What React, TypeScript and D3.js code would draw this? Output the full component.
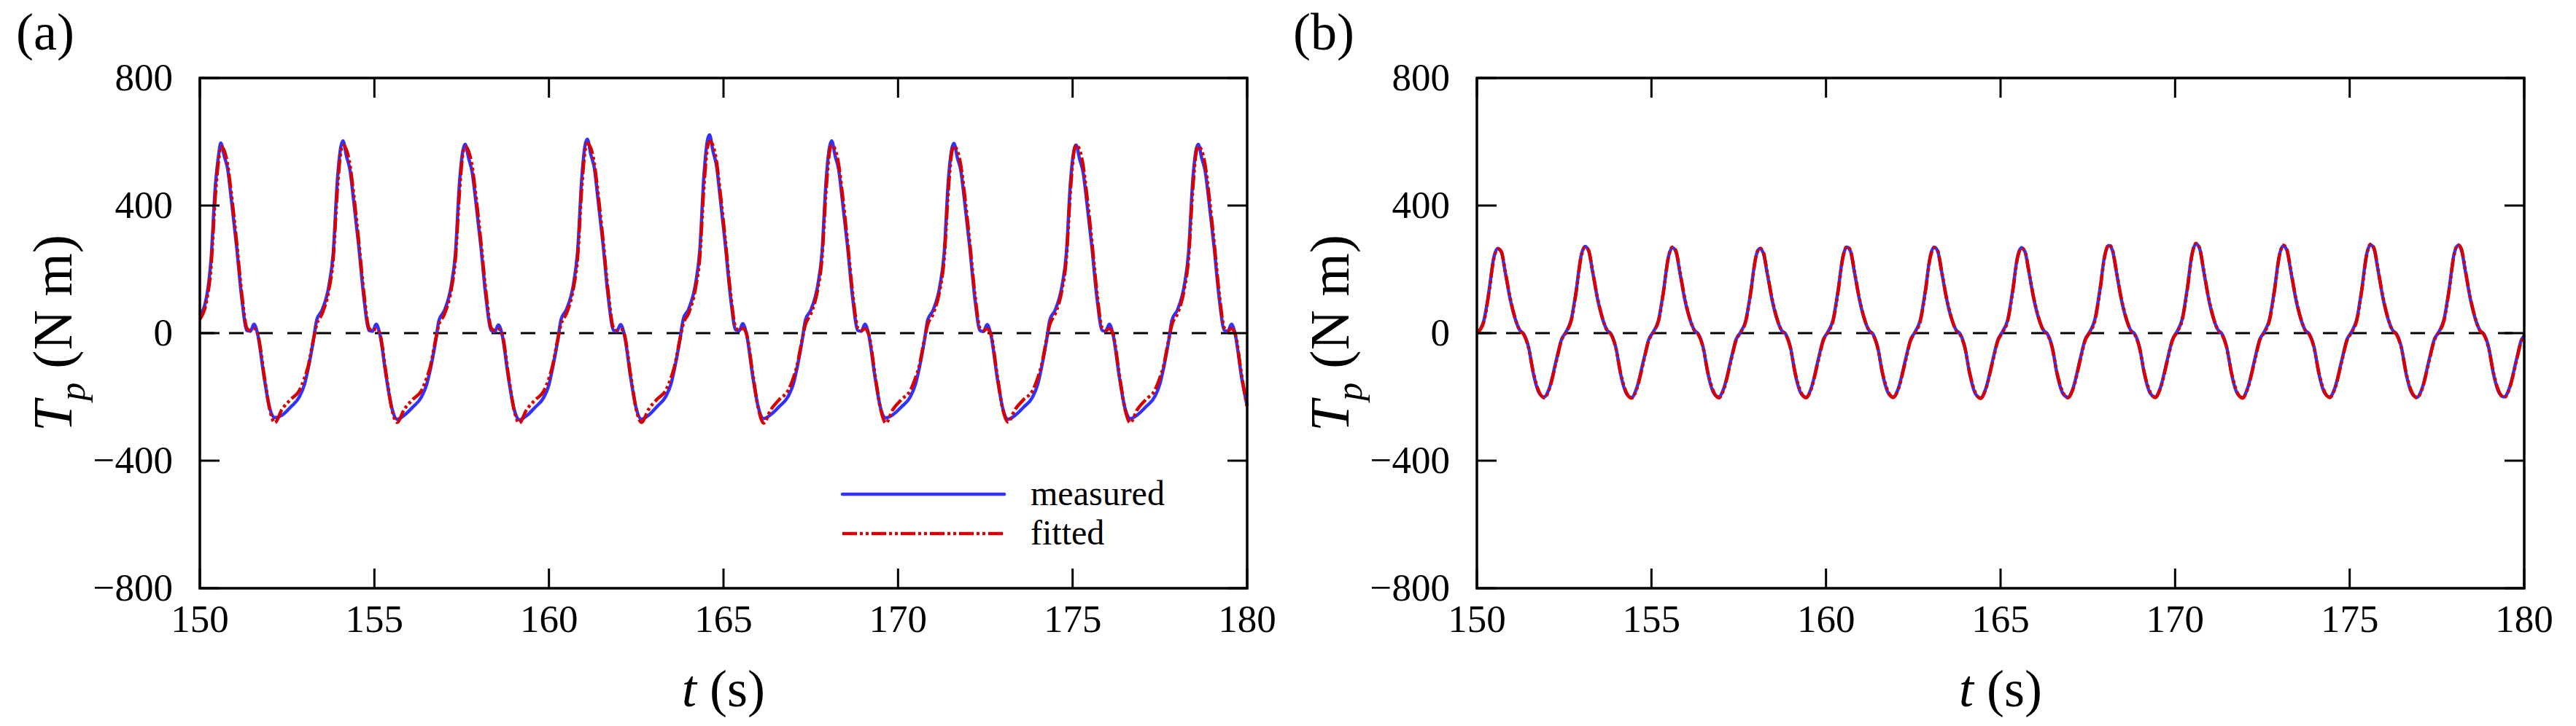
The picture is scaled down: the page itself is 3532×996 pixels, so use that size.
import React from 'react';
import * as d3 from 'd3';

// axis ticks
const xTicks = [150, 155, 160, 165, 170, 175, 180];
const yTicks = [-800, -400, 0, 400, 800];

// (a) time samples, one row per cycle
const tA: number[] = [
	150.0, 150.2, 150.32, 150.44, 150.54, 150.6, 150.7, 150.8, 150.9, 151.05, 151.2, 151.35, 151.45, 151.55, 151.65, 151.85, 152.0, 152.15, 152.35, 152.6, 152.85, 153.0,
	153.1, 153.25, 153.35, 153.5, 153.7, 153.82, 153.94, 154.04, 154.1, 154.2, 154.3, 154.4, 154.55, 154.7, 154.85, 154.95, 155.05, 155.15, 155.35, 155.5, 155.65, 155.85, 156.1, 156.35, 156.5,
	156.6, 156.75, 156.85, 157.0, 157.2, 157.32, 157.44, 157.54, 157.6, 157.7, 157.8, 157.9, 158.05, 158.2, 158.35, 158.45, 158.55, 158.65, 158.85, 159.0, 159.15, 159.35, 159.6, 159.85, 160.0,
	160.1, 160.25, 160.35, 160.5, 160.7, 160.82, 160.94, 161.04, 161.1, 161.2, 161.3, 161.4, 161.55, 161.7, 161.85, 161.95, 162.05, 162.15, 162.35, 162.5, 162.65, 162.85, 163.1, 163.35, 163.5,
	163.6, 163.75, 163.85, 164.0, 164.2, 164.32, 164.44, 164.54, 164.6, 164.7, 164.8, 164.9, 165.05, 165.2, 165.35, 165.45, 165.55, 165.65, 165.85, 166.0, 166.15, 166.35, 166.6, 166.85, 167.0,
	167.1, 167.25, 167.35, 167.5, 167.7, 167.82, 167.94, 168.04, 168.1, 168.2, 168.3, 168.4, 168.55, 168.7, 168.85, 168.95, 169.05, 169.15, 169.35, 169.5, 169.65, 169.85, 170.1, 170.35, 170.5,
	170.6, 170.75, 170.85, 171.0, 171.2, 171.32, 171.44, 171.54, 171.6, 171.7, 171.8, 171.9, 172.05, 172.2, 172.35, 172.45, 172.55, 172.65, 172.85, 173.0, 173.15, 173.35, 173.6, 173.85, 174.0,
	174.1, 174.25, 174.35, 174.5, 174.7, 174.82, 174.94, 175.04, 175.1, 175.2, 175.3, 175.4, 175.55, 175.7, 175.85, 175.95, 176.05, 176.15, 176.35, 176.5, 176.65, 176.85, 177.1, 177.35, 177.5,
	177.6, 177.75, 177.85, 178.0, 178.2, 178.32, 178.44, 178.54, 178.6, 178.7, 178.8, 178.9, 179.05, 179.2, 179.35, 179.45, 179.55, 179.65, 179.85, 180.0,
];

const measuredA: number[] = [
	55, 118, 230, 455, 560, 596, 555, 512, 421, 275, 110, 8, 6, 28, 0, -145, -235, -265, -258, -232, -200, -160,
	-113, -25, 42, 72, 150, 250, 480, 585, 603, 555, 512, 421, 275, 110, 8, 6, 28, 0, -145, -235, -270, -258, -232, -200, -160,
	-115, -28, 40, 70, 148, 248, 475, 575, 592, 548, 505, 418, 272, 108, 8, 5, 26, 0, -148, -238, -272, -260, -233, -202, -162,
	-112, -24, 44, 74, 152, 255, 485, 592, 608, 560, 518, 425, 278, 112, 9, 6, 27, 0, -146, -236, -270, -258, -230, -198, -158,
	-110, -22, 45, 75, 155, 258, 495, 605, 622, 570, 525, 430, 280, 114, 10, 7, 30, 2, -144, -234, -268, -256, -230, -199, -160,
	-113, -25, 42, 72, 150, 250, 480, 585, 603, 555, 512, 421, 275, 110, 8, 6, 28, 0, -145, -235, -266, -256, -231, -200, -160,
	-114, -26, 41, 71, 149, 249, 478, 578, 595, 550, 508, 419, 273, 109, 8, 5, 27, 0, -146, -236, -270, -258, -232, -201, -161,
	-113, -25, 42, 72, 150, 248, 475, 574, 590, 546, 505, 418, 272, 108, 8, 6, 28, 0, -145, -235, -268, -257, -231, -200, -160,
	-113, -25, 42, 72, 150, 250, 476, 576, 592, 548, 506, 419, 273, 109, 8, 6, 28, 0, -145, -228,
];

const fittedA: number[] = [
	43, 105, 205, 425, 545, 585, 572, 525, 440, 290, 125, 15, 8, 14, 0, -138, -238, -281, -240, -208, -180, -140,
	-105, -22, 28, 60, 138, 232, 450, 570, 590, 575, 528, 442, 290, 125, 15, 8, 14, 0, -138, -238, -280, -240, -208, -180, -140,
	-106, -23, 27, 58, 136, 230, 446, 566, 585, 570, 523, 438, 288, 124, 15, 8, 13, 0, -140, -240, -282, -242, -210, -182, -142,
	-104, -21, 29, 61, 140, 234, 455, 576, 595, 580, 532, 445, 292, 126, 16, 9, 14, 0, -139, -239, -280, -240, -207, -179, -139,
	-103, -20, 30, 62, 142, 236, 460, 582, 602, 588, 538, 448, 294, 128, 17, 9, 15, 1, -137, -237, -282, -241, -208, -180, -141,
	-105, -22, 28, 60, 138, 232, 450, 570, 590, 575, 528, 442, 290, 125, 15, 8, 14, 0, -138, -238, -282, -240, -208, -180, -140,
	-106, -23, 27, 59, 137, 231, 447, 567, 586, 572, 525, 440, 289, 124, 15, 8, 13, 0, -139, -239, -279, -240, -208, -181, -141,
	-105, -22, 28, 60, 138, 232, 449, 569, 590, 575, 527, 441, 290, 125, 15, 8, 14, 0, -138, -238, -281, -240, -208, -180, -140,
	-105, -22, 28, 60, 138, 232, 447, 567, 586, 572, 525, 440, 289, 124, 15, 8, 14, 0, -138, -232,
];

// (b) time samples, one row per cycle
const tB: number[] = [
	150.0, 150.2, 150.35, 150.48, 150.6, 150.7, 150.81, 150.95, 151.09, 151.23, 151.34, 151.48, 151.62, 151.79, 151.93, 152.07, 152.28, 152.42,
	152.56, 152.7, 152.85, 152.98, 153.1, 153.2, 153.31, 153.45, 153.59, 153.73, 153.84, 153.98, 154.12, 154.29, 154.43, 154.57, 154.78, 154.92,
	155.06, 155.2, 155.35, 155.48, 155.6, 155.7, 155.81, 155.95, 156.09, 156.23, 156.34, 156.48, 156.62, 156.79, 156.93, 157.07, 157.28, 157.42,
	157.56, 157.7, 157.85, 157.98, 158.1, 158.2, 158.31, 158.45, 158.59, 158.73, 158.84, 158.98, 159.12, 159.29, 159.43, 159.57, 159.78, 159.92,
	160.06, 160.2, 160.35, 160.48, 160.6, 160.7, 160.81, 160.95, 161.09, 161.23, 161.34, 161.48, 161.62, 161.79, 161.93, 162.07, 162.28, 162.42,
	162.56, 162.7, 162.85, 162.98, 163.1, 163.2, 163.31, 163.45, 163.59, 163.73, 163.84, 163.98, 164.12, 164.29, 164.43, 164.57, 164.78, 164.92,
	165.06, 165.2, 165.35, 165.48, 165.6, 165.7, 165.81, 165.95, 166.09, 166.23, 166.34, 166.48, 166.62, 166.79, 166.93, 167.07, 167.28, 167.42,
	167.56, 167.7, 167.85, 167.98, 168.1, 168.2, 168.31, 168.45, 168.59, 168.73, 168.84, 168.98, 169.12, 169.29, 169.43, 169.57, 169.78, 169.92,
	170.06, 170.2, 170.35, 170.48, 170.6, 170.7, 170.81, 170.95, 171.09, 171.23, 171.34, 171.48, 171.62, 171.79, 171.93, 172.07, 172.28, 172.42,
	172.56, 172.7, 172.85, 172.98, 173.1, 173.2, 173.31, 173.45, 173.59, 173.73, 173.84, 173.98, 174.12, 174.29, 174.43, 174.57, 174.78, 174.92,
	175.06, 175.2, 175.35, 175.48, 175.6, 175.7, 175.81, 175.95, 176.09, 176.23, 176.34, 176.48, 176.62, 176.79, 176.93, 177.07, 177.28, 177.42,
	177.56, 177.7, 177.85, 177.98, 178.1, 178.2, 178.31, 178.45, 178.59, 178.73, 178.84, 178.98, 179.12, 179.29, 179.43, 179.57, 179.78, 179.92,
	180.0,
];

const measuredB: number[] = [
	0, 40, 135, 235, 266, 254, 192, 108, 47, 9, -2, -44, -128, -189, -200, -174, -82, -21,
	5, 42, 138, 240, 272, 258, 195, 110, 48, 9, -2, -45, -130, -191, -202, -175, -83, -21,
	5, 40, 136, 236, 268, 255, 193, 108, 47, 9, -2, -44, -128, -189, -200, -174, -82, -21,
	4, 39, 134, 234, 265, 252, 191, 107, 46, 8, -2, -44, -129, -190, -201, -175, -82, -21,
	5, 41, 137, 238, 270, 257, 194, 109, 47, 9, -2, -44, -128, -189, -200, -174, -82, -21,
	5, 41, 137, 238, 270, 257, 194, 109, 47, 9, -2, -45, -130, -192, -203, -176, -83, -22,
	5, 40, 136, 236, 268, 255, 193, 108, 47, 9, -2, -44, -129, -190, -201, -175, -82, -21,
	5, 42, 139, 242, 275, 261, 197, 111, 48, 9, -2, -44, -128, -189, -200, -174, -82, -21,
	6, 43, 141, 246, 280, 266, 200, 113, 49, 10, -2, -45, -130, -191, -202, -175, -83, -21,
	5, 42, 139, 241, 274, 260, 197, 111, 48, 9, -2, -44, -128, -189, -200, -174, -82, -21,
	5, 42, 140, 244, 277, 263, 199, 112, 48, 9, -2, -44, -129, -190, -201, -175, -82, -21,
	5, 42, 139, 242, 275, 261, 197, 111, 48, 9, -2, -44, -128, -189, -200, -174, -82, -21,
	-8,
];

const fittedB: number[] = [
	0, 36, 130, 231, 264, 256, 196, 112, 49, 8, -4, -46, -125, -186, -203, -177, -86, -24,
	3, 38, 133, 236, 270, 260, 198, 113, 50, 8, -4, -47, -127, -188, -204, -178, -87, -24,
	3, 37, 132, 234, 270, 259, 197, 112, 49, 8, -4, -46, -125, -186, -203, -177, -86, -24,
	3, 36, 131, 232, 267, 256, 195, 111, 48, 8, -4, -46, -126, -187, -203, -177, -86, -24,
	3, 37, 133, 235, 272, 260, 197, 112, 49, 8, -4, -46, -125, -186, -202, -176, -86, -24,
	3, 37, 132, 234, 268, 258, 196, 112, 49, 8, -4, -47, -127, -189, -205, -178, -87, -25,
	3, 36, 131, 233, 266, 256, 195, 111, 48, 8, -4, -46, -126, -187, -203, -177, -86, -24,
	3, 38, 135, 239, 277, 264, 200, 114, 50, 8, -4, -46, -125, -186, -202, -176, -86, -24,
	4, 39, 137, 243, 282, 268, 203, 116, 51, 9, -4, -47, -127, -188, -204, -177, -87, -24,
	3, 38, 135, 238, 276, 263, 200, 114, 50, 8, -4, -46, -125, -186, -202, -176, -86, -24,
	3, 38, 136, 241, 279, 266, 202, 115, 50, 8, -4, -46, -126, -187, -203, -177, -86, -24,
	3, 38, 135, 239, 277, 264, 200, 114, 50, 8, -4, -46, -125, -186, -202, -176, -86, -24,
	-6,
];

const FONT = '"Liberation Serif", "Times New Roman", Times, serif';
const BLUE = '#3232ff';
const RED = '#d90000';
const DASHDOT = '20 4 4 4 4 4';

const fmt = (v: number) => (v < 0 ? '\u2212' + Math.abs(v) : String(v));

type PanelProps = {
	left: number;
	tag: string;
	times: number[];
	measured: number[];
	fitted: number[];
	legend?: boolean;
};

function Panel({ left, tag, times, measured, fitted, legend }: PanelProps) {
	const top = 107;
	const bottom = 807;
	const width = 1436;
	const tick = 27;
	const x = d3.scaleLinear().domain([150, 180]).range([left, left + width]);
	const y = d3.scaleLinear().domain([-800, 800]).range([bottom, top]);
	const path = (vals: number[]) =>
		d3.line<number>()
			.x((_, i) => x(times[i]))
			.y((d) => y(d))
			.curve(d3.curveMonotoneX)(vals) || '';

	return (
		<g fontFamily={FONT} fill="#000">
			<text x={left - 252} y={68} fontSize={72}>{tag}</text>

			{/* zero line */}
			<line x1={x(150)} x2={x(180)} y1={y(0)} y2={y(0)} stroke="#000" strokeWidth={3} strokeDasharray="20 20" />

			<path d={path(measured)} fill="none" stroke={BLUE} strokeWidth={4.5} strokeLinejoin="round" />
			<path d={path(fitted)} fill="none" stroke={RED} strokeWidth={4.5} strokeDasharray={DASHDOT} />

			{/* ticks */}
			{xTicks.map((v) => (
				<g key={'x' + v}>
					<line x1={x(v)} x2={x(v)} y1={bottom} y2={bottom - tick} stroke="#000" strokeWidth={3} />
					<line x1={x(v)} x2={x(v)} y1={top} y2={top + tick} stroke="#000" strokeWidth={3} />
					<text x={x(v)} y={867} fontSize={53} textAnchor="middle">{v}</text>
				</g>
			))}
			{yTicks.map((v) => (
				<g key={'y' + v}>
					<line x1={left} x2={left + tick} y1={y(v)} y2={y(v)} stroke="#000" strokeWidth={3} />
					<line x1={left + width} x2={left + width - tick} y1={y(v)} y2={y(v)} stroke="#000" strokeWidth={3} />
					<text x={left - 37} y={y(v)} dy="0.33em" fontSize={53} textAnchor="end">{fmt(v)}</text>
				</g>
			))}

			<rect x={left} y={top} width={width} height={bottom - top} fill="none" stroke="#000" strokeWidth={3.5} />

			{/* axis titles */}
			<text x={left + width / 2} y={969} fontSize={72} textAnchor="middle">
				<tspan fontStyle="italic">t</tspan> (s)
			</text>
			<text transform={`translate(${left - 176},${(top + bottom) / 2}) rotate(-90)`} fontSize={76} textAnchor="middle">
				<tspan fontStyle="italic">T</tspan>
				<tspan fontStyle="italic" fontSize={50} dy={18}>p</tspan>
				<tspan dy={-18}> (N m)</tspan>
			</text>

			{legend && (
				<g>
					<line x1={left + 881} x2={left + 1103} y1={678} y2={678} stroke={BLUE} strokeWidth={4.5} strokeLinecap="round" />
					<line x1={left + 881} x2={left + 1103} y1={732} y2={732} stroke={RED} strokeWidth={4.5} strokeDasharray={DASHDOT} />
					<text x={left + 1139} y={678} dy="0.31em" fontSize={48}>measured</text>
					<text x={left + 1139} y={732} dy="0.31em" fontSize={48}>fitted</text>
				</g>
			)}
		</g>
	);
}

export default function App() {
	return (
		<div>
			<style>{'body{margin:0;background:#fff}'}</style>
			<svg width={3532} height={996} viewBox="0 0 3532 996" style={{ display: 'block', background: '#fff' }}>
				<Panel left={274} tag="(a)" times={tA} measured={measuredA} fitted={fittedA} legend />
				<Panel left={2025} tag="(b)" times={tB} measured={measuredB} fitted={fittedB} />
			</svg>
		</div>
	);
}
